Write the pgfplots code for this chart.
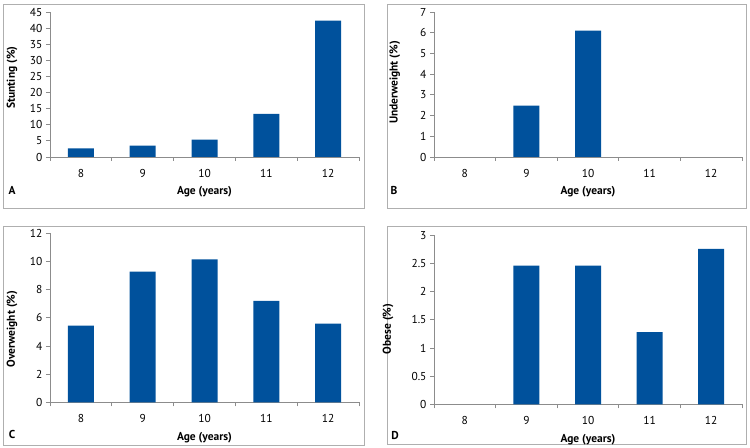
\documentclass[border=0pt]{standalone}
\usepackage{fontspec}
\setmainfont{PT Sans}
\usepackage{pgfplots}
\pgfplotsset{compat=1.18}
\definecolor{barblue}{RGB}{0,81,156}
\definecolor{axgray}{RGB}{140,140,140}
\definecolor{framegray}{RGB}{175,175,175}
\pgfplotsset{panel/.style={
  scale only axis, axis lines*=left, axis line style={axgray, line width=0.8pt},
  xmin=-0.5, xmax=4.5, ymin=0,
  xtick={0,1,2,3,4}, xticklabels={8,9,10,11,12},
  minor xtick={-0.5,0.5,1.5,2.5,3.5,4.5},
  major x tick style={draw=none},
  minor x tick style={axgray, line width=0.8pt},
  tick align=outside, minor tick length=4bp, major tick length=4bp,
  y tick style={axgray, line width=0.8pt},
  xticklabel style={anchor=center, yshift=-12bp},
  tick label style={font=\fontsize{11.5}{13}\selectfont},
  label style={font=\bfseries\fontsize{11.5}{13}\selectfont},
  /pgf/number format/assume math mode=true,
  xlabel={Age (years)},
  xlabel style={at={(axis description cs:0.5,0)}, anchor=center, yshift=-35bp},
  ybar, bar width=26bp, bar shift=0pt,
  clip=false,
}}
\begin{document}
\begin{tikzpicture}
\path (0,0) rectangle (750bp,448bp);
\draw[framegray, line width=0.8pt] (3bp,444bp) rectangle (364bp,240bp);
\draw[framegray, line width=0.8pt] (387bp,444bp) rectangle (746bp,240bp);
\draw[framegray, line width=0.8pt] (3bp,222bp) rectangle (364bp,3bp);
\draw[framegray, line width=0.8pt] (387bp,222bp) rectangle (746bp,4bp);

\begin{axis}[panel, at={(50bp,291bp)}, anchor=south west, width=309bp, height=145bp,
  ymax=45, ytick={0,5,...,45}, ylabel={Stunting (\%)},
  ylabel style={at={(axis description cs:-0.123,0.548)}, anchor=center}]
\addplot[fill=barblue, draw=none] coordinates {(0,2.7) (1,3.5) (2,5.4) (3,13.4) (4,42.3)};
\end{axis}

\begin{axis}[panel, at={(434bp,291bp)}, anchor=south west, width=308bp, height=145bp,
  ymax=7, ytick={0,1,...,7}, ylabel={Underweight (\%)},
  ylabel style={at={(axis description cs:-0.127,0.514)}, anchor=center}]
\addplot[fill=barblue, draw=none] coordinates {(1,2.48) (2,6.1)};
\end{axis}

\begin{axis}[panel, at={(50bp,45.7bp)}, anchor=south west, width=309bp, height=169bp,
  ymax=12, ytick={0,2,...,12}, ylabel={Overweight (\%)},
  ylabel style={at={(axis description cs:-0.123,0.434)}, anchor=center}]
\addplot[fill=barblue, draw=none] coordinates {(0,5.44) (1,9.27) (2,10.15) (3,7.21) (4,5.58)};
\end{axis}

\begin{axis}[panel, at={(434bp,43.7bp)}, anchor=south west, width=308bp, height=169bp,
  ymax=3, ytick={0,0.5,1,1.5,2,2.5,3}, ylabel={Obese (\%)},
  ylabel style={at={(axis description cs:-0.149,0.446)}, anchor=center}]
\addplot[fill=barblue, draw=none] coordinates {(1,2.46) (2,2.46) (3,1.28) (4,2.76)};
\end{axis}

\node[font=\bfseries\fontsize{11.5}{13}\selectfont] at (12bp,258bp) {A};
\node[font=\bfseries\fontsize{11.5}{13}\selectfont] at (394bp,258bp) {B};
\node[font=\bfseries\fontsize{11.5}{13}\selectfont] at (12bp,13.3bp) {C};
\node[font=\bfseries\fontsize{11.5}{13}\selectfont] at (395bp,13bp) {D};
\end{tikzpicture}
\end{document}
